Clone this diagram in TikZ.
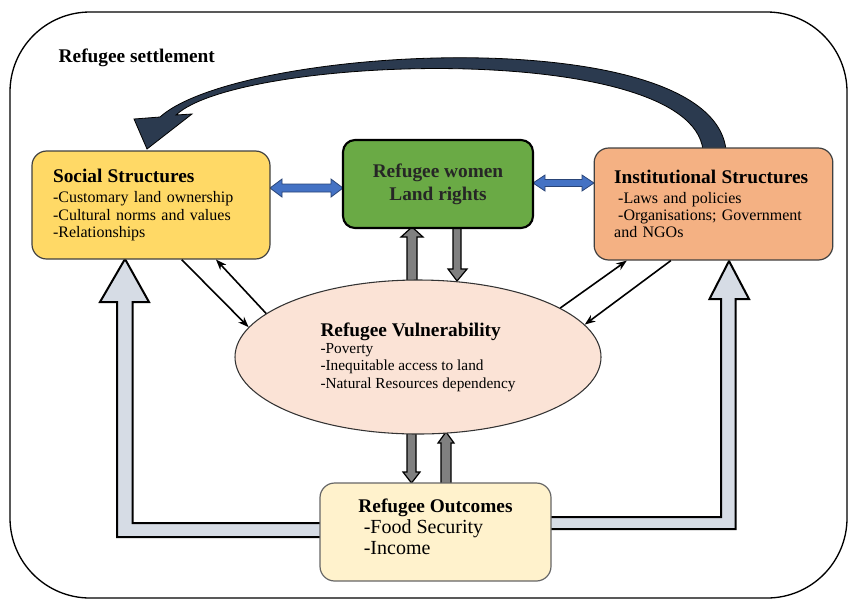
\documentclass[tikz,border=0pt]{standalone}
\usepackage{fontspec}
\setmainfont{Liberation Serif}
\usepackage{tikz}
\usetikzlibrary{arrows.meta}
\usetikzlibrary{shapes.geometric}
\usepackage{xcolor}
\definecolor{socfill}{HTML}{FFD966}
\definecolor{lrfill}{HTML}{6AAA45}
\definecolor{instfill}{HTML}{F4B183}
\definecolor{vulfill}{HTML}{FBE3D6}
\definecolor{outfill}{HTML}{FFF2CC}
\definecolor{paleblue}{HTML}{D6DCE5}
\definecolor{arrowblue}{HTML}{4472C4}
\definecolor{navy}{HTML}{2B3A4F}

\begin{document}
\begin{tikzpicture}[x=0.75pt,y=-0.75pt]
				    \tikzstyle{box}=[draw=black!75,line width=0.9pt,rounded corners=11pt,inner ysep=0pt]
				    \tikzstyle{link}=[draw,line width=1.2pt,black,-{Stealth[length=8pt,width=6pt]}]
				    \tikzstyle{grayarrow}=[draw=black,line width=0.9pt,fill=black!50]
				    \tikzstyle{bigarrow}=[draw=black,line width=1.5pt,fill=paleblue]
				    \tikzstyle{bluearrow}=[draw=arrowblue!60!black,line width=0.6pt,fill=arrowblue]
				    \tikzstyle{head}=[font=\bfseries\fontsize{14.5}{15}\selectfont]
				    \useasboundingbox (0,0) rectangle (848,601);
				    \draw[line width=1pt,rounded corners=60pt] (10,12) rectangle (847,598);
				    \node[head,anchor=west] (set) at (54,58) {Refugee settlement};
				    \draw[fill=navy,draw=black,line width=0.6pt] (726,150) .. controls (712,20) and (240,45) .. (160,117) -- (134,119) -- (147,149) -- (192,114) -- (176,115) .. controls (240,55) and (690,40) .. (703,150) -- cycle;
				    \draw[bigarrow] (330,537) -- (117,537) -- (117,302) -- (100,302) -- (125,259) -- (149,302) -- (132.5,302) -- (132.5,523) -- (330,523) -- cycle;
				    \draw[bigarrow] (540,529) -- (735.5,529) -- (735.5,299) -- (749,299) -- (729,261) -- (709.5,299) -- (721,299) -- (721,517) -- (540,517) -- cycle;
				    \draw[bluearrow] (270,188) -- (282,179) -- (282,184) -- (331,184) -- (331,179) -- (343,188) -- (331,197) -- (331,192) -- (282,192) -- (282,197) -- cycle;
				    \draw[bluearrow] (533,183) -- (545,175) -- (545,179.5) -- (582,179.5) -- (582,175) -- (594,183) -- (582,191) -- (582,186.5) -- (545,186.5) -- (545,191) -- cycle;
				    \draw[grayarrow] (407,290) -- (407,237) -- (401,237) -- (412,227) -- (423,237) -- (417,237) -- (417,290) -- cycle;
				    \draw[grayarrow] (453,226) -- (453,269) -- (448,269) -- (457,281) -- (467,269) -- (461,269) -- (461,226) -- cycle;
				    \draw[grayarrow] (407,428) -- (407,472) -- (403,472) -- (411.5,483) -- (420,472) -- (416,472) -- (416,428) -- cycle;
				    \draw[grayarrow] (441,488) -- (441,443) -- (438,443) -- (446,432) -- (454,443) -- (451,443) -- (451,488) -- cycle;
				    \node[box,fill=socfill,text width=147pt,inner xsep=15.75pt,minimum height=81pt,align=left,font=\fontsize{12}{13}\selectfont] (soc) at (151,205) {{\bfseries\fontsize{14.5}{15}\selectfont Social Structures}\\[2pt]-Customary land ownership\\-Cultural norms and values\\-Relationships\\[-3pt]};
				    \node[box,draw=black,line width=1.6pt,fill=lrfill,rounded corners=9pt,minimum width=142.5pt,minimum height=66pt,align=center,text=black!85,font=\bfseries\fontsize{14.5}{17.5}\selectfont] (lr) at (438,184) {Refugee women\\Land rights};
				    \node[box,fill=instfill,text width=149pt,inner xsep=15pt,minimum height=84pt,align=left,font=\fontsize{12}{13}\selectfont] (inst) at (713.5,204) {{\bfseries\fontsize{14.5}{15}\selectfont Institutional Structures}\\[2pt]\hspace*{3pt}-Laws and policies\\\hspace*{3pt}-Organisations; Government\\and NGOs};
				    \node[ellipse,draw=black!80,line width=0.8pt,fill=vulfill,minimum width=274.5pt,minimum height=115.5pt,inner sep=0pt,align=left,font=\fontsize{11.5}{13}\selectfont] (vul) at (418,357) {{\bfseries\fontsize{14.5}{15}\selectfont Refugee Vulnerability}\\-Poverty\\-Inequitable access to land\\-Natural Resources dependency};
				    \node[box,draw=black!60,fill=outfill,minimum width=173.25pt,minimum height=73.5pt,align=left,font=\fontsize{15}{16}\selectfont] (out) at (435.5,532) {{\bfseries\fontsize{14.5}{16}\selectfont Refugee Outcomes}\\\hspace*{4pt}-Food Security\\\hspace*{4pt}-Income\\[-8pt]};
				    \draw[link] ([xshift=23pt]soc.south) -- (vul.170);
				    \draw[link] (vul.164) -- ([xshift=48.75pt]soc.south);
				    \draw[link] (vul.19) -- ([xshift=-65pt]inst.south);
				    \draw[link] ([xshift=-32pt]inst.south) -- (vul.11);
				\end{tikzpicture}
\end{document}
